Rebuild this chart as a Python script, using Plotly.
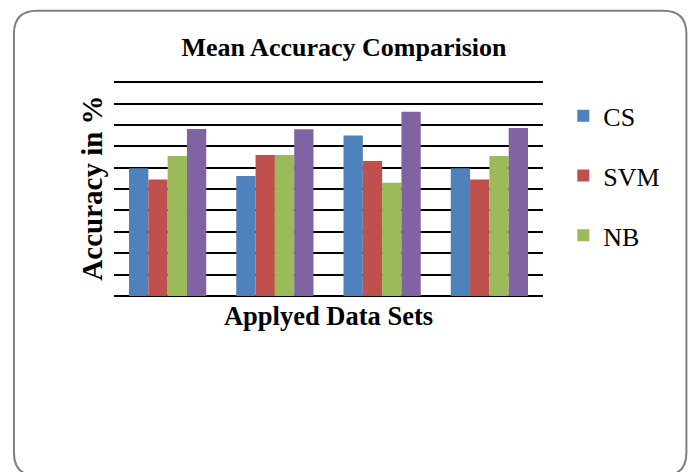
import plotly.graph_objects as go

categories = ["Set 1", "Set 2", "Set 3", "Set 4"]
cs = [59.7, 56.1, 75.0, 59.7]
svm = [54.5, 65.9, 63.1, 54.5]
nb = [65.5, 65.9, 53.0, 65.5]
other = [78.1, 78.0, 86.1, 78.6]

W, H = 689, 472
YMAX = 101
L, R, B = 114, 542.7, 295.7
T = B - (B - 82.3) * YMAX / 100

fig = go.Figure()
series = [("CS", cs, "#4F81BD", True), ("SVM", svm, "#C0504D", True),
          ("NB", nb, "#9BBB59", True), ("Other", other, "#8064A2", False)]
for name, vals, col, show in series:
    fig.add_trace(go.Bar(x=categories, y=vals, name=name, marker_color=col,
                         marker_line_width=0, showlegend=show, legendgroup=name))

def P(px, py):
    a, b = (px - L) / (R - L), (B - py) / (B - T)
    return f"{a:.5f},{b:.5f}"

x0, y0, x1, y1, r = 14, 11, 686, 475, 23
path = (f"M {P(x0 + r, y0)} L {P(x1 - r, y0)} Q {P(x1, y0)} {P(x1, y0 + r)} "
        f"L {P(x1, y1 - r)} Q {P(x1, y1)} {P(x1 - r, y1)} "
        f"L {P(x0 + r, y1)} Q {P(x0, y1)} {P(x0, y1 - r)} "
        f"L {P(x0, y0 + r)} Q {P(x0, y0)} {P(x0 + r, y0)} Z")
fig.add_shape(type="path", path=path, xref="paper", yref="paper",
              line=dict(color="#808080", width=2), layer="below")

fig.update_layout(
    width=W, height=H,
    margin=dict(l=L, r=W - R, t=T, b=H - B, autoexpand=False),
    paper_bgcolor="white", plot_bgcolor="white",
    barmode="group", bargap=0.28, bargroupgap=0,
    font=dict(family="Liberation Serif", color="black"),
    title=dict(text="<b>Mean Accuracy Comparision</b>", x=344 / W, xanchor="center",
               y=1 - 47 / H, yanchor="middle", xref="container", yref="container",
               font=dict(size=26, family="Liberation Serif", color="black")),
    xaxis=dict(showticklabels=False, showgrid=False, ticks="",
               title=dict(text="<b>Applyed Data Sets</b>", standoff=10,
                          font=dict(size=26.5, family="Liberation Serif"))),
    yaxis=dict(range=[0, YMAX], dtick=10, showticklabels=False, ticks="",
               showgrid=True, gridcolor="black", gridwidth=2,
               zeroline=True, zerolinecolor="black", zerolinewidth=2,
               title=dict(text="<b>Accuracy in %</b>", standoff=1,
                          font=dict(size=29, family="Liberation Serif"))),
    legend=dict(x=(563 - L) / (R - L), y=(B - 92.5) / (B - T), xanchor="left", yanchor="top",
                font=dict(size=26, family="Liberation Serif"), tracegroupgap=23,
                bgcolor="rgba(0,0,0,0)"),
)

fig.write_html("out.html", config={"displayModeBar": False},
               post_script="document.body.style.margin='0';")
